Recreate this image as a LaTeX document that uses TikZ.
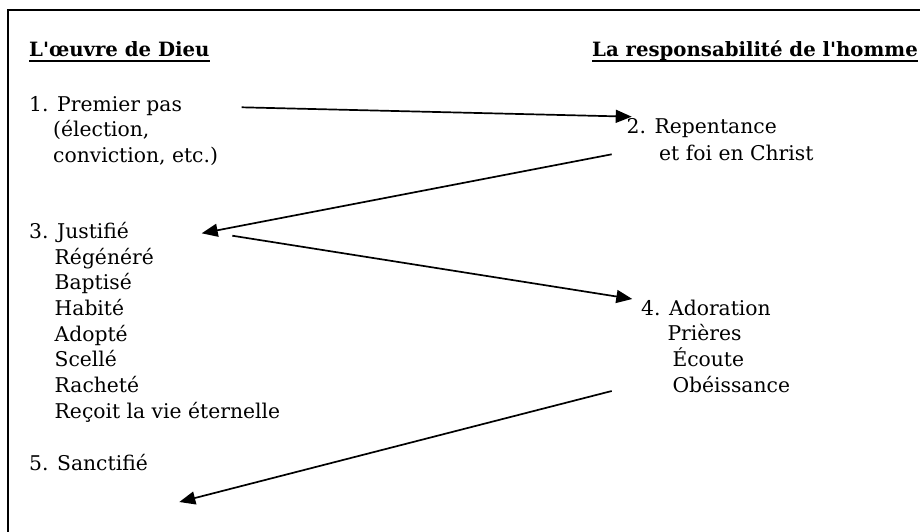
\documentclass[tikz,border=0pt]{standalone}
\usepackage{fontspec}
\setmainfont{DejaVu Serif}
\usetikzlibrary{arrows.meta}
\begin{document}
\begin{tikzpicture}[x=1pt,y=-1pt,
  txt/.style={anchor=base west, inner sep=0pt, font=\fontsize{20.3}{24}\selectfont},
  ttl/.style={anchor=base west, inner sep=0pt, font=\fontsize{19.7}{23}\selectfont\bfseries},
  uline/.style={line width=1.8pt},
  conn/.style={line width=1.7pt, -{Triangle[length=16pt,width=13pt]}},
  frame/.style={line width=2pt, line join=miter}]
\useasboundingbox (0,0) rectangle (920,531);
\clip (0,0) rectangle (920,531);
\draw[frame] (8,560) -- (8,10) -- (940,10);
% titles
\node[ttl] (t1) at (29,56) {L\textquotesingle œuvre de Dieu};
\node[ttl] (t2) at (592,56) {La responsabilité de l\textquotesingle homme};
\draw[uline] ([yshift=-4.6pt]t1.base west) -- ([yshift=-4.6pt]t1.base east);
\draw[uline] ([yshift=-4.6pt]t2.base west) -- ([yshift=-4.6pt]t2.base east);
% item 1
\node[txt] (n1a) at (29,111) {1. Premier pas};
\node[txt] (n1b) at (53,136.7) {(élection,};
\node[txt] (n1c) at (53,162.4) {conviction, etc.)};
% item 2
\node[txt] (n2a) at (626.5,133.5) {2. Repentance};
\node[txt] (n2b) at (659,160) {et foi en Christ};
% item 3
\node[txt] (n3a) at (29,238.3) {3. Justifié};
\node[txt] (n3b) at (54.5,264) {Régénéré};
\node[txt] (n3c) at (54.5,289.7) {Baptisé};
\node[txt] (n3d) at (54.5,315.4) {Habité};
\node[txt] (n3e) at (54.5,341.1) {Adopté};
\node[txt] (n3f) at (54.5,366.8) {Scellé};
\node[txt] (n3g) at (54.5,392.5) {Racheté};
\node[txt] (n3h) at (54.5,418.2) {Reçoit la vie éternelle};
% item 5
\node[txt] (n5) at (29,470.5) {5. Sanctifié};
% item 4
\node[txt] (n4a) at (641,315) {4. Adoration};
\node[txt] (n4b) at (667.3,340.7) {Prières};
\node[txt] (n4c) at (672.3,366.7) {Écoute};
\node[txt] (n4d) at (672.3,392.7) {Obéissance};
% connector ends
\coordinate (a1s) at (241.7,107.3);
\coordinate (a1e) at (631.7,116.7);
\coordinate (a2s) at (611.7,154.3);
\coordinate (a2e) at (201.7,233.3);
\coordinate (a3s) at (232.3,235.7);
\coordinate (a3e) at (632.3,299);
\coordinate (a4s) at (611.7,391);
\coordinate (a4e) at (179.3,502);
\draw[conn] (a1s) -- (a1e);
\draw[conn] (a2s) -- (a2e);
\draw[conn] (a3s) -- (a3e);
\draw[conn] (a4s) -- (a4e);
\end{tikzpicture}
\end{document}
